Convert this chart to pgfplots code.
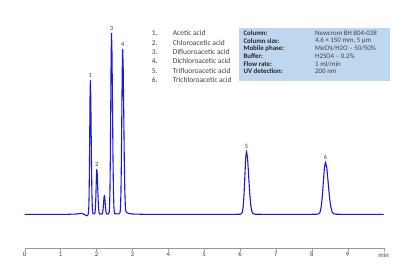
\documentclass[border=0pt]{standalone}
\usepackage{pgfplots}
\pgfplotsset{compat=1.18}
\usepackage{fontspec}
\setmainfont{Carlito}
\definecolor{sigblue}{RGB}{25,25,225}
\definecolor{boxblue}{RGB}{190,215,238}
\definecolor{txtgray}{RGB}{65,65,65}
\begin{document}
\begin{tikzpicture}[x=1pt,y=1pt]
\path[use as bounding box] (0,0) rectangle (411,270);
\begin{axis}[
  at={(24.7pt,21.7pt)}, anchor=south west,
  scale only axis, width=358.9pt, height=228.3pt,
  xmin=0, xmax=10, ymin=-34, ymax=194.3,
  axis x line=bottom, axis y line=none,
  x axis line style={-, draw=gray!80},
  xtick={0,1,2,3,4,5,6,7,8,9,10},
  xticklabels={0,1,2,3,4,5,6,7,8,9,min},
  tick align=outside, major tick length=3pt,
  tick style={draw=gray!80},
  /pgf/number format/assume math mode=true,
  xticklabel style={font=\fontsize{6.8}{7}\selectfont, text=txtgray, yshift=2.5pt},
  clip=false,
]
\addplot[sigblue, line width=1.1pt, line join=round] coordinates {
(0,0) (1.2,0) (1.45,0.3) (1.55,0.8) (1.62,0.6) (1.68,-0.5) (1.73,-1.5) (1.76,-0.8)
(1.776,1.5) (1.785,5.9) (1.794,18.1) (1.803,43.5) (1.812,81.3) (1.821,118.3) (1.83,134)
(1.841,118.3) (1.852,81.3) (1.863,43.5) (1.874,18.1) (1.885,5.9) (1.896,1.5) (1.91,0.6) (1.93,0.4)
(1.95,0.5) (1.96,2.0) (1.97,6.1) (1.98,14.6) (1.99,27.3) (2.00,39.7) (2.01,45)
(2.022,39.7) (2.034,27.3) (2.046,14.6) (2.058,6.1) (2.07,2.0) (2.082,0.5) (2.11,0.2)
(2.154,0.2) (2.165,0.8) (2.176,2.6) (2.187,6.2) (2.198,11.5) (2.209,16.8) (2.22,19)
(2.231,16.8) (2.242,11.5) (2.253,6.2) (2.264,2.6) (2.275,0.8) (2.29,0.3) (2.332,0.3)
(2.354,2.0) (2.365,7.9) (2.376,24.5) (2.387,58.8) (2.398,109.8) (2.409,159.7) (2.42,181)
(2.433,159.7) (2.446,109.8) (2.459,58.8) (2.472,24.5) (2.485,7.9) (2.498,2.0) (2.51,0.6) (2.6,0.4) (2.63,0.5)
(2.658,1.8) (2.67,7.2) (2.682,22.3) (2.694,53.6) (2.706,100.1) (2.718,145.6) (2.73,165)
(2.745,145.6) (2.76,100.1) (2.775,53.6) (2.79,22.3) (2.805,7.2) (2.82,3.0) (2.85,1.5) (2.9,0.8) (3.0,0.3) (3.3,0)
(5.9,0) (6.0,0.1)
(6.045,0.7) (6.0675,2.8) (6.09,8.6) (6.1125,20.6) (6.135,38.5) (6.1575,56.0) (6.18,63.5)
(6.21,56.0) (6.24,38.5) (6.27,20.6) (6.30,8.6) (6.33,2.8) (6.36,0.7) (6.42,0.1) (6.6,0)
(8.0,0) (8.15,0.1)
(8.2,0.6) (8.23,2.3) (8.26,7.1) (8.29,17.0) (8.32,31.8) (8.35,46.3) (8.38,52.5)
(8.4175,46.3) (8.455,31.8) (8.4925,17.0) (8.53,7.1) (8.5675,2.3) (8.605,0.6) (8.68,0.1) (8.8,0)
(10,0)
};
\begin{scope}[every node/.style={font=\fontsize{6.5}{6.5}\selectfont, text=txtgray, anchor=south, inner sep=0.5pt}]
\node at (axis cs:1.83,136) {1};
\node at (axis cs:2.01,47) {2};
\node at (axis cs:2.42,183) {3};
\node at (axis cs:2.73,167) {4};
\node at (axis cs:6.18,65.5) {5};
\node at (axis cs:8.38,54.5) {6};
\end{scope}
\end{axis}
% legend list
\begin{scope}[every node/.style={font=\fontsize{7.5}{8}\selectfont, text=txtgray, anchor=west, inner sep=0pt}]
\node at (151.7,236.7) {1.}; \node at (172.7,236.7) {Acetic acid};
\node at (151.7,227.3) {2.}; \node at (172.7,227.3) {Chloroacetic acid};
\node at (151.7,218.0) {3.}; \node at (172.7,218.0) {Difluoroacetic acid};
\node at (151.7,208.7) {4.}; \node at (172.7,208.7) {Dichloroacetic acid};
\node at (151.7,199.3) {5.}; \node at (172.7,199.3) {Trifluoroacetic acid};
\node at (151.7,190.0) {6.}; \node at (172.7,190.0) {Trichloroacetic acid};
\end{scope}
% info box
\fill[boxblue] (239,189) rectangle (390,242);
\begin{scope}[every node/.style={font=\fontsize{6.9}{7.5}\selectfont, anchor=west, inner sep=0pt}]
\node[text=black!85] at (243.3,236.5) {\textbf{Column:}};
\node[text=black!85] at (243.3,228.9) {\textbf{Column size:}};
\node[text=black!85] at (243.3,221.3) {\textbf{Mobile phase:}};
\node[text=black!85] at (243.3,213.7) {\textbf{Buffer:}};
\node[text=black!85] at (243.3,206.1) {\textbf{Flow rate:}};
\node[text=black!85] at (243.3,198.5) {\textbf{UV detection:}};
\node[text=txtgray] at (315,236.5) {Newcrom BH B04-038};
\node[text=txtgray] at (315,228.9) {4.6 × 150 mm, 5 µm};
\node[text=txtgray] at (315,221.3) {MeCN/H2O – 50/50\%};
\node[text=txtgray] at (315,213.7) {H2SO4 – 0.2\%};
\node[text=txtgray] at (315,206.1) {1 ml/min};
\node[text=txtgray] at (315,198.5) {200 nm};
\end{scope}
\end{tikzpicture}
\end{document}
